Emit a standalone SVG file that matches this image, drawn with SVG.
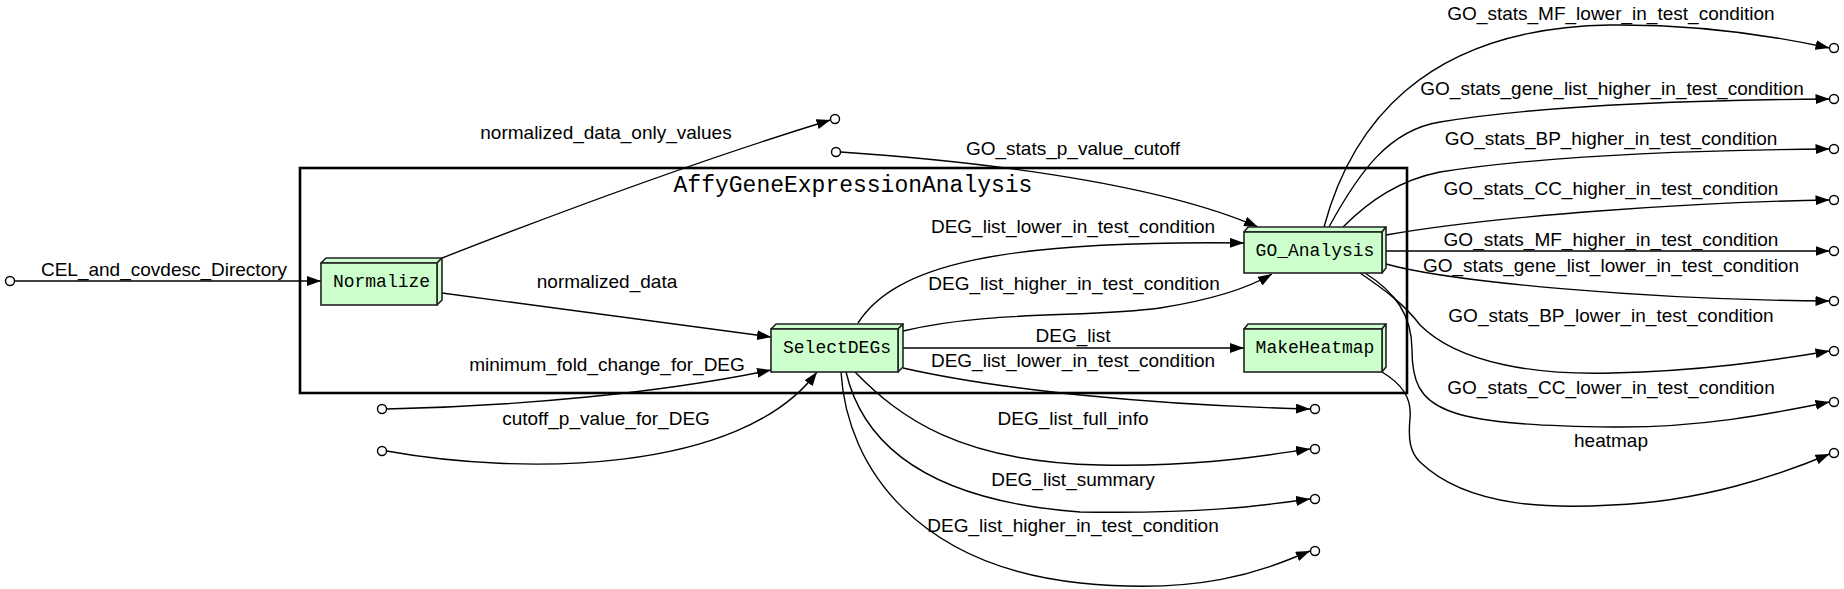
<svg xmlns="http://www.w3.org/2000/svg" width="1844" height="589" viewBox="0 0 1844 589">
<style>
.edge{fill:none;stroke:#000;stroke-width:1.4}
.arr{marker-end:url(#arr)}
.lbl{font-family:"Liberation Sans",Arial,sans-serif;font-size:19px;fill:#000;text-anchor:middle}
.ntx{font-family:"Liberation Mono","Courier New",monospace;font-size:18px;fill:#000;text-anchor:middle}
.front{fill:#ccffcc;stroke:#222;stroke-width:1.6}
.side{fill:#ccffcc;stroke:#222;stroke-width:1.6;stroke-linejoin:round}
.port{fill:#fff;stroke:#000;stroke-width:1.4}
.cl{fill:none;stroke:#000;stroke-width:2.6}
.cltx{font-family:"Liberation Mono","Courier New",monospace;font-size:23px;fill:#000;text-anchor:middle}
</style>
<defs>
<marker id="arr" markerUnits="userSpaceOnUse" markerWidth="14" markerHeight="10" refX="14" refY="5" orient="auto">
<path d="M0,0 L14,5 L0,10 z" fill="#000"/>
</marker>
</defs>
<rect width="1844" height="589" fill="#fff"/>

<g id="cluster_AffyGeneExpressionAnalysis">
<rect class="cl" x="300" y="168" width="1107" height="225"/>
<text class="cltx" x="853" y="192">AffyGeneExpressionAnalysis</text>
</g>

<g id="connectors">
<g id="e_CEL"><path class="edge arr" d="M14.5,281 L321,281"/><text class="lbl" x="164" y="276">CEL_and_covdesc_Directory</text></g>
<g id="e_norm_only"><path class="edge arr" d="M442,258 C560,212 700,160 830.5,120"/><text class="lbl" x="606" y="139">normalized_data_only_values</text></g>
<g id="e_norm_data"><path class="edge arr" d="M442,293 L771,337"/><text class="lbl" x="607" y="288">normalized_data</text></g>
<g id="e_minfold"><path class="edge arr" d="M386.5,409 C520,406 660,393 771,370"/><text class="lbl" x="607" y="371">minimum_fold_change_for_DEG</text></g>
<g id="e_cutoff"><path class="edge arr" d="M386.5,451 C520,475 740,475 817,372"/><text class="lbl" x="606" y="425">cutoff_p_value_for_DEG</text></g>
<g id="e_GOp"><path class="edge arr" d="M840.5,152 C960,160 1150,180 1258,227"/><text class="lbl" x="1073" y="155">GO_stats_p_value_cutoff</text></g>
<g id="e_DEG_lower_GO"><path class="edge arr" d="M858,323 C895,265 1000,240 1244,243"/><text class="lbl" x="1073" y="233">DEG_list_lower_in_test_condition</text></g>
<g id="e_DEG_higher_GO"><path class="edge arr" d="M903,331 C990,310 1090,318 1160,308 C1210,300 1245,290 1272,274"/><text class="lbl" x="1074" y="290">DEG_list_higher_in_test_condition</text></g>
<g id="e_DEG_list"><path class="edge arr" d="M903,348 L1244,348"/><text class="lbl" x="1073" y="342">DEG_list</text></g>
<g id="e_DEG_lower_out"><path class="edge arr" d="M903,368 C1000,390 1150,405 1310,409"/><text class="lbl" x="1073" y="367">DEG_list_lower_in_test_condition</text></g>
<g id="e_full_info"><path class="edge arr" d="M855,372 C900,418 960,462 1100,465 C1200,467 1260,456 1310,449"/><text class="lbl" x="1073" y="425">DEG_list_full_info</text></g>
<g id="e_summary"><path class="edge arr" d="M846,372 C862,440 920,500 1080,512 C1200,514 1260,506 1310,499"/><text class="lbl" x="1073" y="486">DEG_list_summary</text></g>
<g id="e_DEG_higher_out"><path class="edge arr" d="M841,372 C847,470 920,566 1080,583 C1200,595 1260,572 1310,551"/><text class="lbl" x="1073" y="532">DEG_list_higher_in_test_condition</text></g>
<g id="e_MF_lower"><path class="edge arr" d="M1324,227 C1350,130 1420,28 1610,25 C1700,24 1770,35 1829.5,48"/><text class="lbl" x="1611" y="20">GO_stats_MF_lower_in_test_condition</text></g>
<g id="e_gene_higher"><path class="edge arr" d="M1329,227 C1360,170 1390,130 1440,122 C1550,104 1700,100 1829.5,99"/><text class="lbl" x="1612" y="95">GO_stats_gene_list_higher_in_test_condition</text></g>
<g id="e_BP_higher"><path class="edge arr" d="M1343,227 C1370,200 1400,180 1440,172 C1550,155 1700,150 1829.5,149"/><text class="lbl" x="1611" y="145">GO_stats_BP_higher_in_test_condition</text></g>
<g id="e_CC_higher"><path class="edge arr" d="M1386,235 C1500,215 1700,202 1829.5,200"/><text class="lbl" x="1611" y="195">GO_stats_CC_higher_in_test_condition</text></g>
<g id="e_MF_higher"><path class="edge arr" d="M1386,251 L1829.5,251"/><text class="lbl" x="1611" y="246">GO_stats_MF_higher_in_test_condition</text></g>
<g id="e_gene_lower"><path class="edge arr" d="M1386,264 C1450,282 1650,300 1829.5,301"/><text class="lbl" x="1611" y="272">GO_stats_gene_list_lower_in_test_condition</text></g>
<g id="e_BP_lower"><path class="edge arr" d="M1360,273 C1385,290 1405,305 1420,325 C1460,365 1540,375 1612,373 C1700,371 1770,361 1829.5,351"/><text class="lbl" x="1611" y="322">GO_stats_BP_lower_in_test_condition</text></g>
<g id="e_CC_lower"><path class="edge arr" d="M1365,273 C1395,292 1412,315 1412,350 C1412,410 1440,425 1612,427 C1700,428 1770,414 1829.5,402"/><text class="lbl" x="1611" y="394">GO_stats_CC_lower_in_test_condition</text></g>
<g id="e_heatmap"><path class="edge arr" d="M1382,372 C1402,384 1412,398 1410,418 C1408,440 1410,452 1420,462 C1470,510 1560,508 1612,505 C1700,502 1780,475 1829.5,454"/><text class="lbl" x="1611" y="447">heatmap</text></g>
</g>

<g id="Normalize">
<polygon class="side" points="321,263 326,258 442,258 437,263"/>
<polygon class="side" points="437,263 442,258 442,300 437,305"/>
<rect class="front" x="321" y="263" width="116" height="42"/>
<text class="ntx" x="381.5" y="287">Normalize</text>
</g>
<g id="SelectDEGs">
<polygon class="side" points="771,329 776,324 903,324 898,329"/>
<polygon class="side" points="898,329 903,324 903,367 898,372"/>
<rect class="front" x="771" y="329" width="127" height="43"/>
<text class="ntx" x="837" y="353">SelectDEGs</text>
</g>
<g id="GO_Analysis">
<polygon class="side" points="1244,232 1248,227 1386,227 1382,232"/>
<polygon class="side" points="1382,232 1386,227 1386,268 1382,273"/>
<rect class="front" x="1244" y="232" width="138" height="41"/>
<text class="ntx" x="1315" y="256">GO_Analysis</text>
</g>
<g id="MakeHeatmap">
<polygon class="side" points="1244,329 1248,324 1386,324 1382,329"/>
<polygon class="side" points="1382,329 1386,324 1386,367 1382,372"/>
<rect class="front" x="1244" y="329" width="138" height="43"/>
<text class="ntx" x="1315" y="353">MakeHeatmap</text>
</g>

<g id="in_CEL_and_covdesc_Directory"><circle class="port" cx="10" cy="281" r="4.5"/></g>
<g id="out_normalized_data_only_values"><circle class="port" cx="835" cy="119" r="4.5"/></g>
<g id="in_GO_stats_p_value_cutoff"><circle class="port" cx="836" cy="152" r="4.5"/></g>
<g id="in_minimum_fold_change_for_DEG"><circle class="port" cx="382" cy="409" r="4.5"/></g>
<g id="in_cutoff_p_value_for_DEG"><circle class="port" cx="382" cy="451" r="4.5"/></g>
<g id="out_DEG_list_lower_in_test_condition"><circle class="port" cx="1315" cy="409" r="4.5"/></g>
<g id="out_DEG_list_full_info"><circle class="port" cx="1315" cy="449" r="4.5"/></g>
<g id="out_DEG_list_summary"><circle class="port" cx="1315" cy="499" r="4.5"/></g>
<g id="out_DEG_list_higher_in_test_condition"><circle class="port" cx="1315" cy="551" r="4.5"/></g>
<g id="out_GO_stats_MF_lower_in_test_condition"><circle class="port" cx="1834" cy="48" r="4.5"/></g>
<g id="out_GO_stats_gene_list_higher_in_test_condition"><circle class="port" cx="1834" cy="99" r="4.5"/></g>
<g id="out_GO_stats_BP_higher_in_test_condition"><circle class="port" cx="1834" cy="149" r="4.5"/></g>
<g id="out_GO_stats_CC_higher_in_test_condition"><circle class="port" cx="1834" cy="200" r="4.5"/></g>
<g id="out_GO_stats_MF_higher_in_test_condition"><circle class="port" cx="1834" cy="251" r="4.5"/></g>
<g id="out_GO_stats_gene_list_lower_in_test_condition"><circle class="port" cx="1834" cy="301" r="4.5"/></g>
<g id="out_GO_stats_BP_lower_in_test_condition"><circle class="port" cx="1834" cy="351" r="4.5"/></g>
<g id="out_GO_stats_CC_lower_in_test_condition"><circle class="port" cx="1834" cy="402" r="4.5"/></g>
<g id="out_heatmap"><circle class="port" cx="1834" cy="453" r="4.5"/></g>
</svg>
